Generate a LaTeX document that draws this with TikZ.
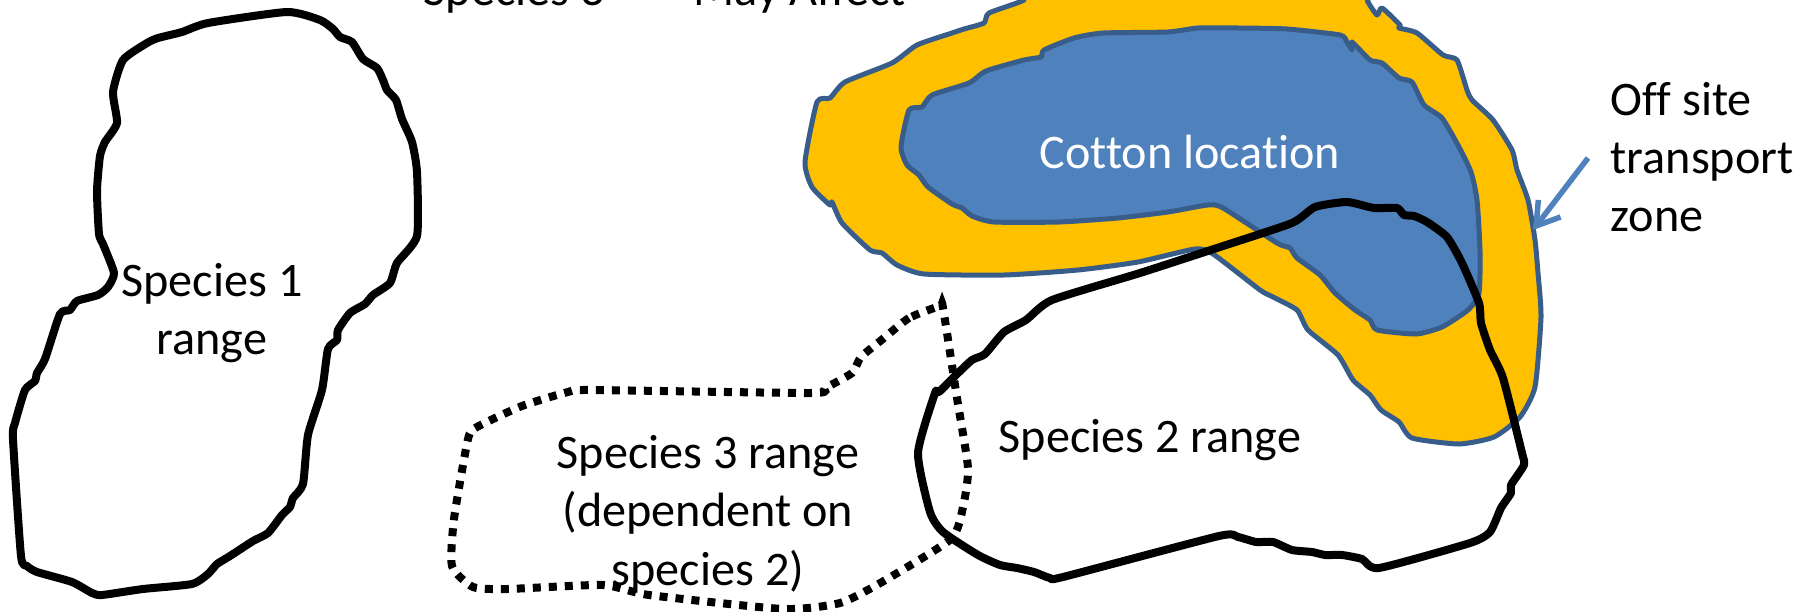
\documentclass[tikz,border=0pt]{standalone}
\usepackage{fontspec}
\setmainfont{Carlito}[Ligatures=NoCommon]
\usepackage{xcolor}
\usetikzlibrary{arrows.meta}
\definecolor{zoneorange}{HTML}{FFC000}
\definecolor{cottonblue}{HTML}{4F81BD}
\definecolor{edgeblue}{HTML}{385D8A}
\begin{document}
\begin{tikzpicture}[x=0.01cm,y=-0.01cm,
  rng/.style={draw=black,line width=0.08cm,line join=round},
  dep/.style={draw=black,line width=0.08cm,dash pattern=on 0.08cm off 0.08cm},
  zn/.style={draw=edgeblue,line width=0.05cm,line join=round},
  lb/.style={font=\fontsize{13.7}{16.6}\selectfont,align=center,inner sep=0pt},
  ar/.style={-{Straight Barb[length=2.2mm,width=2.8mm]},draw=cottonblue,line width=0.055cm}]
\useasboundingbox (0,0) rectangle (1793,612);
\clip (0,0) rectangle (1793,612);
\fill[white] (0,0) rectangle (1793,612);
\draw[zn,fill=zoneorange] plot[smooth cycle,tension=0.35] coordinates {
  (1024,-12) (1024,0) (989,13) (984,23) (964,29) (952,33) (917,45) (892,63) (845,82) (830,98) (817,102)
  (805,162) (812,187) (830,205) (832,202) (842,223) (870,250) (882,253) (897,265) (924,274) (1004,275)
  (1078,270) (1138,262) (1195,249) (1213,254) (1260,290) (1273,297) (1297,310) (1308,330) (1338,355)
  (1353,380) (1370,395) (1381,410) (1399,422) (1412,438) (1459,444) (1494,437) (1520,417) (1535,387)
  (1541,317) (1538,273) (1535,240) (1528,200) (1517,170) (1512,150) (1493,120) (1472,100) (1467,90)
  (1457,60) (1443,55) (1417,33) (1399,28) (1400,25) (1382,8) (1377,15) (1367,0) (1367,-12)};
\draw[zn,fill=cottonblue] plot[smooth cycle,tension=0.35] coordinates {
  (1340,35) (1287,29) (1238,28) (1198,28) (1168,32) (1103,33) (1074,38) (1044,50) (1041,57) (1024,60)
  (986,71) (969,83) (932,95) (922,107) (909,110) (901,147) (907,165) (919,175) (928,187) (952,204)
  (962,208) (972,216) (994,222) (1059,222) (1118,218) (1168,212) (1208,205) (1223,208) (1277,243)
  (1290,248) (1297,258) (1320,275) (1335,293) (1355,310) (1370,320) (1377,330) (1416,334) (1442,327)
  (1468,310) (1479,293) (1480,250) (1477,200) (1471,172) (1459,147) (1442,118) (1424,105) (1412,82)
  (1399,78) (1382,63) (1370,60) (1352,42) (1352,50) (1347,42)};
\draw[rng] plot[smooth cycle,tension=0.35] coordinates {
  (287,12) (320,20) (333,29) (340,37) (352,42) (363,59) (377,68) (383,80) (387,90) (396,100) (402,119)
  (412,142) (417,172) (417,236) (397,263) (390,283) (373,295) (365,304) (350,313) (338,330) (337,340)
  (328,349) (322,390) (308,435) (303,484) (293,498) (290,507) (282,515) (268,533) (253,541) (230,556)
  (217,564) (208,574) (192,584) (143,589) (102,595) (92,593) (72,582) (37,572) (27,566) (21,556) (13,439)
  (15,423) (25,390) (35,381) (37,373) (45,359) (60,314) (70,310) (77,301) (98,295) (108,287) (114,273)
  (103,244) (99,234) (97,191) (100,156) (105,142) (117,123) (113,92) (123,60) (147,43) (158,38) (182,32)
  (208,23)};
\draw[rng] plot[smooth cycle,tension=0.35] coordinates {
  (1140,273) (1220,247) (1292,223) (1315,207) (1347,202) (1374,208) (1397,208) (1404,215) (1414,216) (1427,222)
  (1447,237) (1462,263) (1479,303) (1481,323) (1490,350) (1503,378) (1522,453) (1524,465) (1511,485)
  (1511,493) (1501,508) (1490,532) (1470,543) (1379,568) (1362,559) (1342,555) (1325,555) (1312,552)
  (1292,550) (1273,542) (1256,542) (1238,537) (1219,536) (1063,577) (1050,578) (1034,572) (1017,568)
  (1000,565) (978,555) (943,532) (930,512) (918,453) (935,393) (939,392) (956,375) (972,360) (985,354)
  (1004,332) (1026,320) (1052,300)};
\draw[dep] plot[smooth cycle,tension=0.35] coordinates {
  (940,306) (909,318) (884,338) (861,357) (852,373) (825,388) (811,393) (591,390) (568,392) (522,406)
  (477,427) (468,439) (454,519) (452,566) (473,587) (507,589) (603,585) (649,595) (783,609) (840,603)
  (882,582) (951,539) (963,507) (968,468) (957,398) (943,308)};
\coordinate (tail) at (1588,158);
\coordinate (tip) at (1533,230);
\draw[ar] (tail)--(tip);
\node[lb,anchor=base west] (sptop) at (423,5) {Species 3};
\node[lb,anchor=base west] (maytop) at (693,5) {May Affect};
\node[lb] (spone) at (212,313) {Species 1\\range};
\node[lb,anchor=base] (sptwo) at (1150,452) {Species 2 range};
\node[lb] (spthree) at (708,514) {Species 3 range\\(dependent on\\species 2)};
\node[lb,anchor=base,text=white] (cotton) at (1190,168) {Cotton location};
\node[lb,anchor=west,align=left] (offsite) at (1610,157) {Off site\\transport\\zone};
\end{tikzpicture}
\end{document}
